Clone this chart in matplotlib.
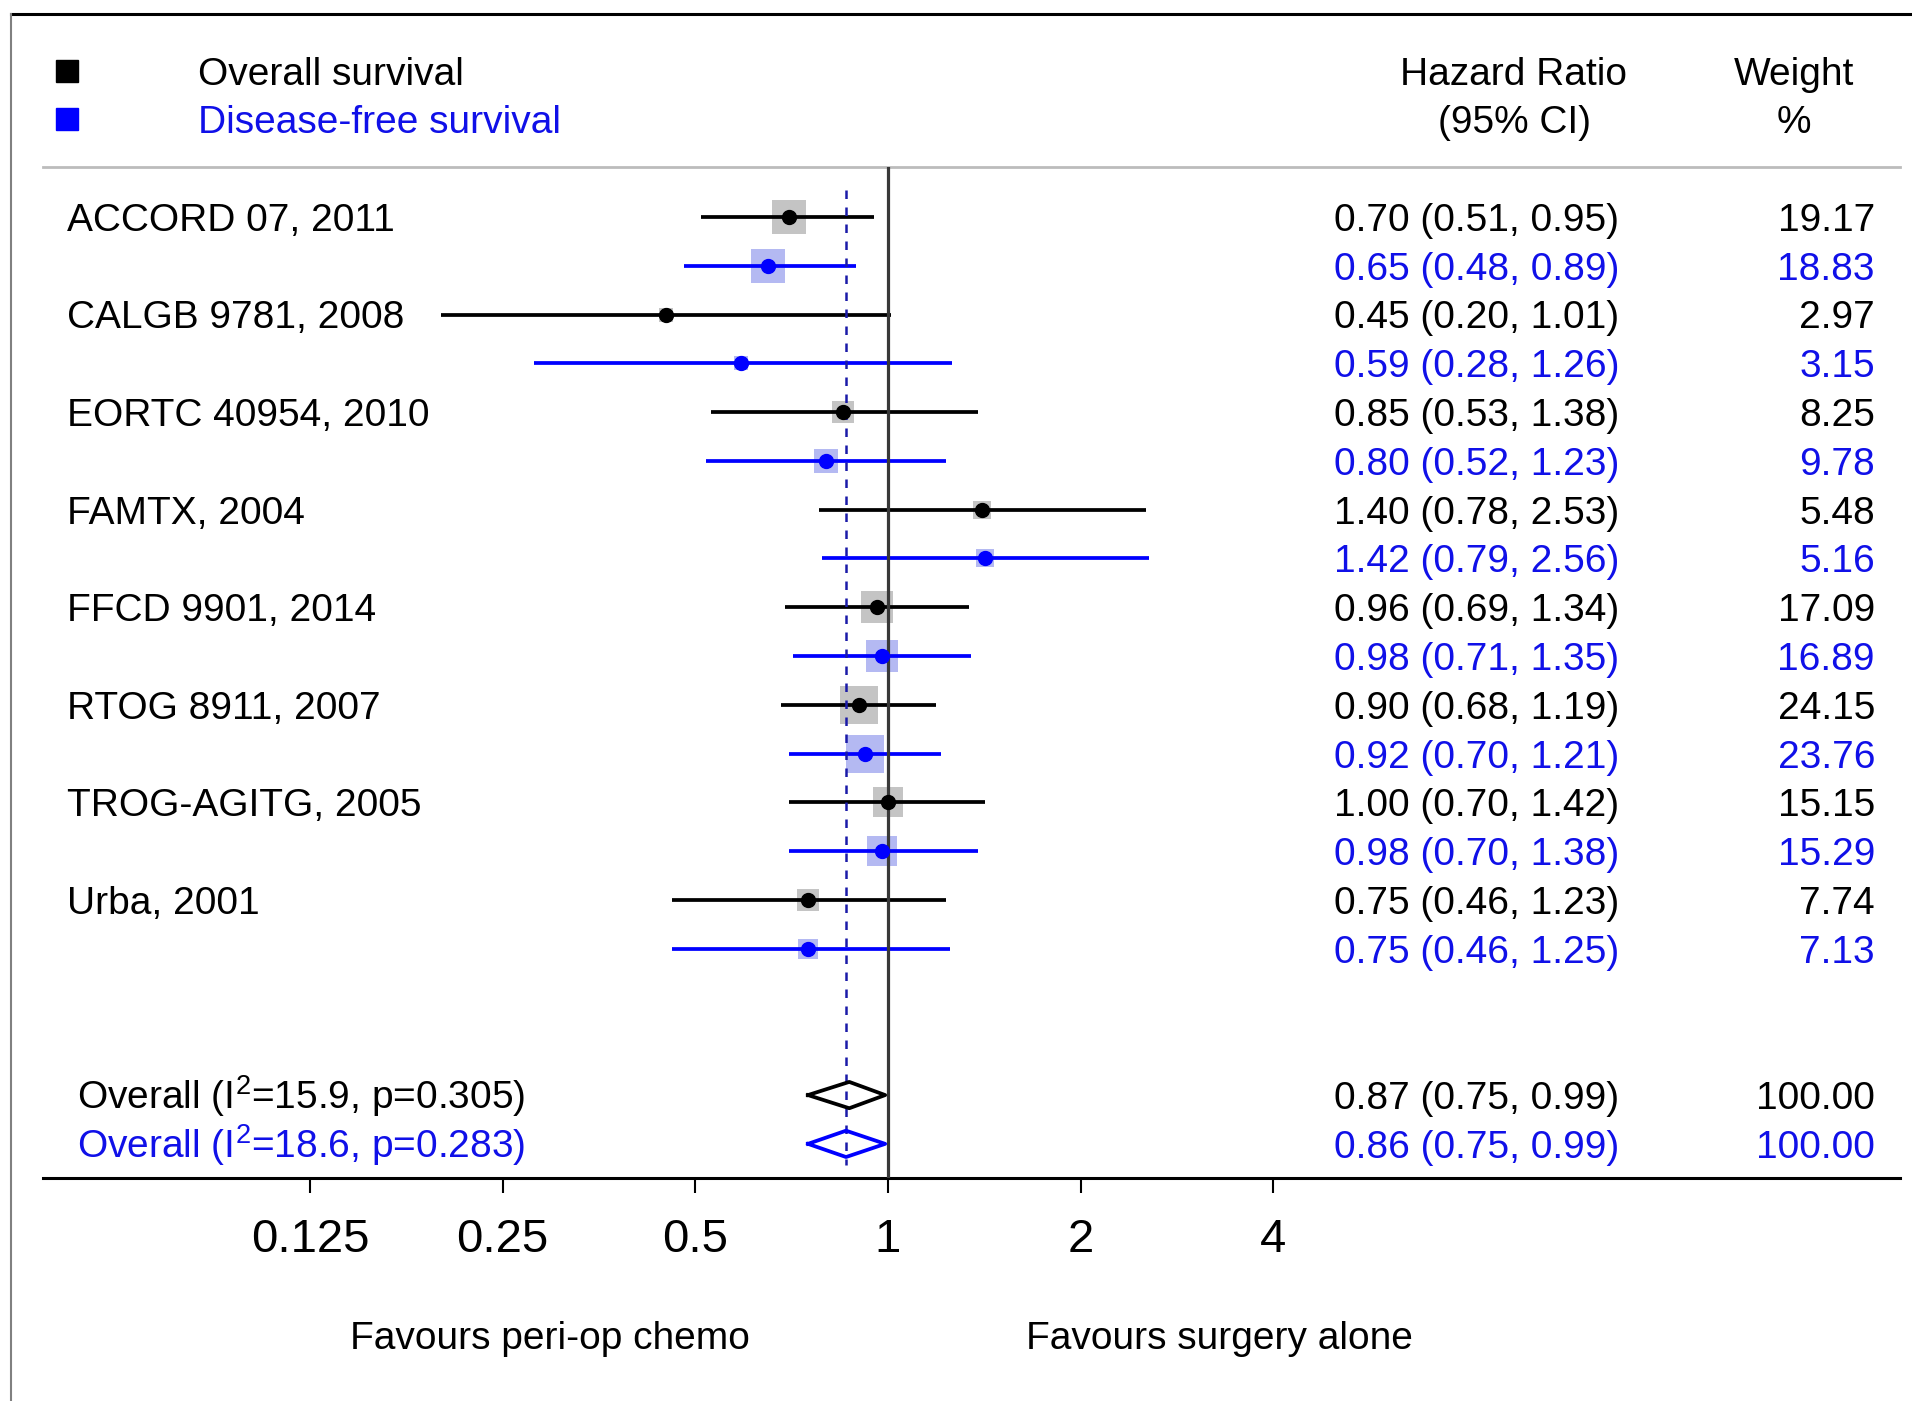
import matplotlib
matplotlib.use('Agg')
import matplotlib.pyplot as plt
from matplotlib.transforms import blended_transform_factory
from matplotlib.lines import Line2D
from matplotlib.ticker import NullLocator

plt.rcParams['font.family'] = ['Liberation Sans', 'DejaVu Sans']
plt.rcParams['mathtext.fontset'] = 'custom'
plt.rcParams['mathtext.rm'] = 'Liberation Sans'
plt.rcParams['mathtext.it'] = 'Liberation Sans:italic'

studies = ['ACCORD 07, 2011', 'CALGB 9781, 2008', 'EORTC 40954, 2010', 'FAMTX, 2004',
           'FFCD 9901, 2014', 'RTOG 8911, 2007', 'TROG-AGITG, 2005', 'Urba, 2001']
os_hr = [0.70, 0.45, 0.85, 1.40, 0.96, 0.90, 1.00, 0.75]
os_lo = [0.51, 0.20, 0.53, 0.78, 0.69, 0.68, 0.70, 0.46]
os_hi = [0.95, 1.01, 1.38, 2.53, 1.34, 1.19, 1.42, 1.23]
os_w = [19.17, 2.97, 8.25, 5.48, 17.09, 24.15, 15.15, 7.74]
dfs_hr = [0.65, 0.59, 0.80, 1.42, 0.98, 0.92, 0.98, 0.75]
dfs_lo = [0.48, 0.28, 0.52, 0.79, 0.71, 0.70, 0.70, 0.46]
dfs_hi = [0.89, 1.26, 1.23, 2.56, 1.35, 1.21, 1.38, 1.25]
dfs_w = [18.83, 3.15, 9.78, 5.16, 16.89, 23.76, 15.29, 7.13]
overall_labels = ['Overall (I$^{2}$=15.9, p=0.305)', 'Overall (I$^{2}$=18.6, p=0.283)']
overall_hr = [0.87, 0.86]
overall_lo = [0.75, 0.75]
overall_hi = [0.99, 0.99]
overall_w = [100.00, 100.00]
ticks = [0.125, 0.25, 0.5, 1, 2, 4]
tick_labels = ['0.125', '0.25', '0.5', '1', '2', '4']

W, H = 1912, 1401
BLUE = '#0000ff'
BLUE_TXT = '#1010e8'
fs = 28

fig = plt.figure(figsize=(W / 100, H / 100), dpi=100)
ax = fig.add_axes([43 / W, 1 - 1178 / H, (1900 - 43) / W, (1178 - 167) / H])
ax.set_xscale('log', base=2)
ax.set_xlim(2 ** -4.385, 2 ** 5.252)
ax.set_ylim(19.70, -1.025)

# study rows: OS on even rows, DFS on odd rows
for i in range(len(studies)):
    y1, y2 = 2 * i, 2 * i + 1
    ax.scatter([os_hr[i]], [y1], s=30 * os_w[i], marker='s', color='#c4c4c4', linewidths=0, zorder=2)
    ax.scatter([dfs_hr[i]], [y2], s=30 * dfs_w[i], marker='s', color='#b4b9f2', linewidths=0, zorder=2)
    ax.hlines(y1, os_lo[i], os_hi[i], color='black', lw=2.7, zorder=3)
    ax.hlines(y2, dfs_lo[i], dfs_hi[i], color=BLUE, lw=2.7, zorder=3)
    ax.plot(os_hr[i], y1, 'o', color='black', ms=10, zorder=4)
    ax.plot(dfs_hr[i], y2, 'o', color=BLUE, ms=10, zorder=4)

# overall diamonds
h = 0.27
for k, c in enumerate(['black', BLUE]):
    y = 18 + k
    lo, hr, hi = overall_lo[k], overall_hr[k], overall_hi[k]
    ax.plot([lo, hr, hi, hr, lo], [y, y - h, y, y + h, y], color=c, lw=2.7, zorder=4)

ax.axvline(1, color='#383838', lw=2.3, zorder=3)
ax.vlines(overall_hr[1], -0.55, 19.43, color='#1a1aa8', lw=1.8, linestyles=(0, (3.4, 3.4)), zorder=3)

for s in ['left', 'right']:
    ax.spines[s].set_visible(False)
ax.spines['top'].set_color('#bcbcbc')
ax.spines['top'].set_linewidth(2)
ax.spines['bottom'].set_linewidth(2.2)
ax.set_yticks([])
ax.set_xticks(ticks)
ax.set_xticklabels(tick_labels)
ax.xaxis.set_minor_locator(NullLocator())
ax.tick_params(axis='x', direction='out', length=11, width=1.5, pad=18, labelsize=34)

trans = blended_transform_factory(fig.transFigure, ax.transData)

def txt(px, y, s, color='black', ha='left'):
    # baseline placed so the capital letters are centred on the row
    ax.text(px / W, y + 0.285, s, transform=trans, ha=ha, va='baseline',
            fontsize=fs, color=color, clip_on=False)

# header / legend
ax.plot([67 / W], [-3], 's', color='black', ms=16, transform=trans, clip_on=False)
ax.plot([67 / W], [-2], 's', color=BLUE, ms=16, transform=trans, clip_on=False)
txt(198, -3, 'Overall survival')
txt(198, -2, 'Disease-free survival', BLUE_TXT)
txt(1514, -3, 'Hazard Ratio', ha='center')
txt(1514, -2, '(95% CI)', ha='center')
txt(1794, -3, 'Weight', ha='center')
txt(1794, -2, '%', ha='center')

for i in range(len(studies)):
    txt(67, 2 * i, studies[i])
    txt(1619, 2 * i, f'{os_hr[i]:.2f} ({os_lo[i]:.2f}, {os_hi[i]:.2f})', ha='right')
    txt(1619, 2 * i + 1, f'{dfs_hr[i]:.2f} ({dfs_lo[i]:.2f}, {dfs_hi[i]:.2f})', BLUE_TXT, ha='right')
    txt(1875, 2 * i, f'{os_w[i]:.2f}', ha='right')
    txt(1875, 2 * i + 1, f'{dfs_w[i]:.2f}', BLUE_TXT, ha='right')

for k, c in enumerate(['black', BLUE_TXT]):
    y = 18 + k
    txt(77, y, overall_labels[k], c)
    txt(1619, y, f'{overall_hr[k]:.2f} ({overall_lo[k]:.2f}, {overall_hi[k]:.2f})', c, ha='right')
    txt(1875, y, f'{overall_w[k]:.2f}', c, ha='right')

fig.text(550 / W, 1 - 1339 / H, 'Favours peri-op chemo', ha='center', va='center', fontsize=fs)
fig.text(1219 / W, 1 - 1339 / H, 'Favours surgery alone', ha='center', va='center', fontsize=fs)

# outer frame
fig.add_artist(Line2D([11 / W, 1], [1 - 14 / H, 1 - 14 / H], color='black', lw=2.2))
fig.add_artist(Line2D([11 / W, 11 / W], [0, 1 - 14 / H], color='#808080', lw=1.5))

fig.savefig('out.png', dpi=100)
